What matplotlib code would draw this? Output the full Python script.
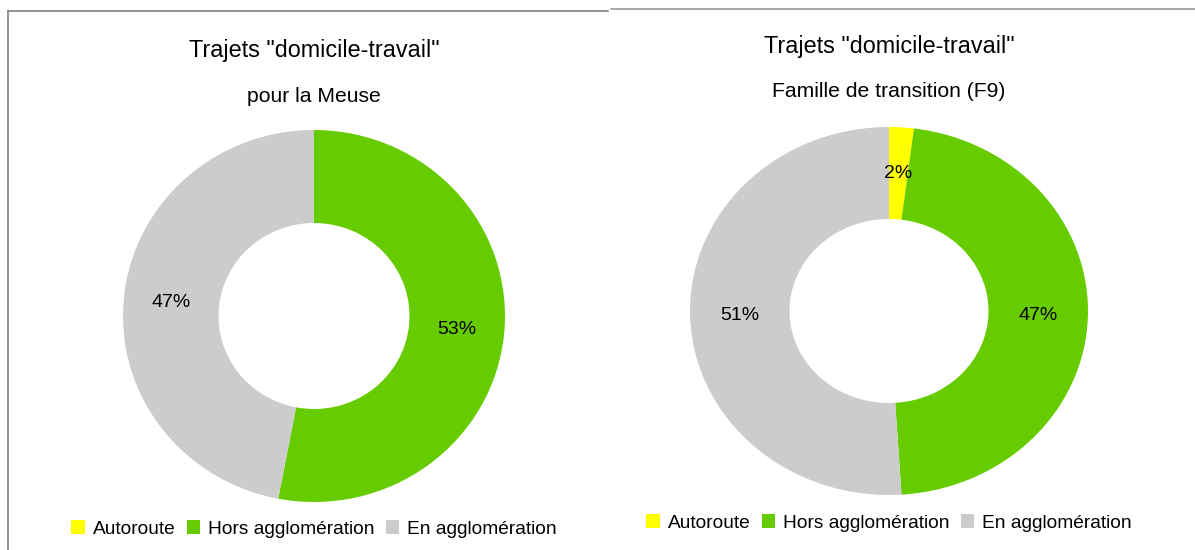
import matplotlib
matplotlib.use("Agg")
import matplotlib.pyplot as plt
from matplotlib.lines import Line2D

plt.rcParams['font.family'] = ['Liberation Sans', 'DejaVu Sans']

categories = ["Autoroute", "Hors agglomération", "En agglomération"]
colors = ["#FFFF00", "#66CC00", "#CCCCCC"]
meuse_values = [0, 53, 47]
f9_values = [2, 47, 51]
title_main = 'Trajets "domicile-travail"'
subtitle_left = "pour la Meuse"
subtitle_right = "Famille de transition (F9)"

W, H = 1195, 550
fig = plt.figure(figsize=(W / 100, H / 100), dpi=100)


def px_axes(x0, y0, x1, y1):
    return fig.add_axes([x0 / W, 1 - y1 / H, (x1 - x0) / W, (y1 - y0) / H])


def autopct(p):
    return "" if p < 0.5 else f"{p:.0f}%"


def donut(ax, values):
    wedges, texts, autotexts = ax.pie(
        values, colors=colors, startangle=90, counterclock=False,
        wedgeprops=dict(width=0.5, linewidth=0), autopct=autopct,
        pctdistance=0.75, textprops=dict(fontsize=14, color="#000000"))
    ax.set_aspect('auto')
    ax.set_xlim(-1, 1)
    ax.set_ylim(-1, 1)
    ax.axis('off')
    return wedges


axL = px_axes(123, 130, 505, 502)
wL = donut(axL, meuse_values)
axR = px_axes(690, 127, 1088, 495)
wR = donut(axR, f9_values)

# titles
fig.text(314 / W, 1 - 50 / H, title_main, ha='center', va='center', fontsize=16.8)
fig.text(314 / W, 1 - 96 / H, subtitle_left, ha='center', va='center', fontsize=15.2)
fig.text(889 / W, 1 - 46 / H, title_main, ha='center', va='center', fontsize=16.8)
fig.text(889 / W, 1 - 91 / H, subtitle_right, ha='center', va='center', fontsize=15.2)

# legends
for wedges, cx, cy in ((wL, 314, 529), (wR, 889, 523)):
    fig.legend(wedges, categories, loc='center', bbox_to_anchor=(cx / W, 1 - cy / H),
               ncol=3, frameon=False, fontsize=13.8, handlelength=0.7,
               handleheight=0.7, handletextpad=0.4, columnspacing=0.6,
               borderpad=0, borderaxespad=0)

# panel borders
fig.add_artist(Line2D([8 / W, 608 / W], [1 - 11 / H, 1 - 11 / H], color="#808080", lw=1.2))
fig.add_artist(Line2D([8 / W, 8 / W], [1 - 11 / H, 0], color="#808080", lw=1.2))
fig.add_artist(Line2D([611 / W, 1], [1 - 9 / H, 1 - 9 / H], color="#999999", lw=1.2))

fig.savefig("out.png", dpi=100)
